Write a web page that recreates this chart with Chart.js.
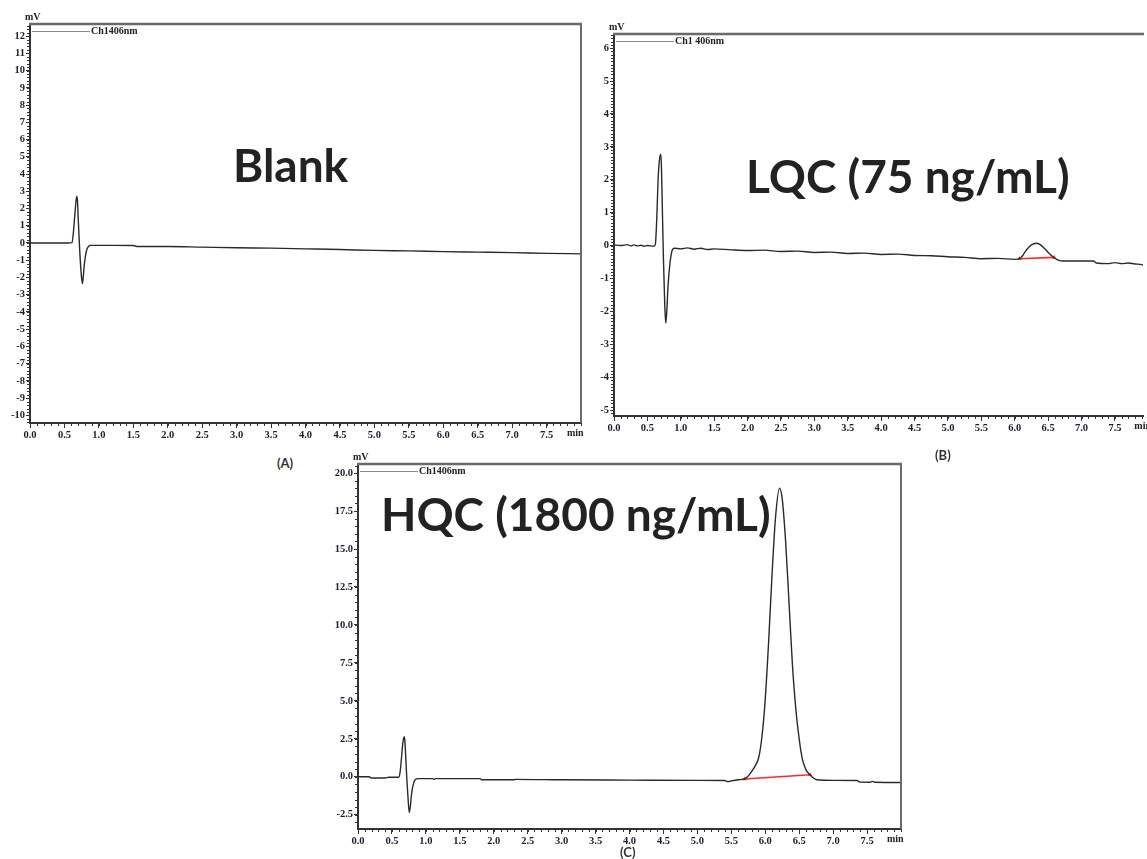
<!DOCTYPE html>
<html><head><meta charset="utf-8">
<script src="https://cdn.jsdelivr.net/npm/chart.js@4.4.0/dist/chart.umd.min.js"></script>
<style>
body{margin:0;background:#fff;width:1147px;height:859px;overflow:hidden;position:relative}
.box{position:absolute}
.title{position:absolute;font-family:Lato,sans-serif;font-weight:700;color:#222;white-space:nowrap;line-height:1;font-size:46px}
.lab{position:absolute;font-family:Lato,sans-serif;font-weight:700;font-size:13px;color:#333;line-height:1}
</style></head><body>
<div class="box" style="left:0;top:0"><canvas id="cA" width="600" height="450"></canvas></div>
<div class="box" style="left:590px;top:0"><canvas id="cB" width="557" height="450"></canvas></div>
<div class="box" style="left:320px;top:440px"><canvas id="cC" width="600" height="419"></canvas></div>
<div class="title" style="left:233px;top:142px">Blank</div>
<div class="title" style="left:746px;top:153px">LQC (75 ng/mL)</div>
<div class="title" style="left:381px;top:491px">HQC (1800 ng/mL)</div>
<div class="lab" style="left:277px;top:457px">(A)</div>
<div class="lab" style="left:935px;top:449px">(B)</div>
<div class="lab" style="left:620px;top:846px">(C)</div>
<script>
// ---------- data ----------
const xTickLabels = [0.0,0.5,1.0,1.5,2.0,2.5,3.0,3.5,4.0,4.5,5.0,5.5,6.0,6.5,7.0,7.5];
const yTicksA = [-10,-9,-8,-7,-6,-5,-4,-3,-2,-1,0,1,2,3,4,5,6,7,8,9,10,11,12];
const yTicksB = [-5,-4,-3,-2,-1,0,1,2,3,4,5,6];
const yTicksC = [-2.5,0.0,2.5,5.0,7.5,10.0,12.5,15.0,17.5,20.0];

const timeA = [0.0,0.3,0.55,0.61,0.63,0.65,0.67,0.68,0.69,0.70,0.72,0.74,0.76,0.77,0.79,0.82,0.85,0.88,1.2,1.5,1.55,2.0,2.5,3.0,3.5,4.0,4.5,5.0,5.5,6.0,6.5,7.0,7.5,8.0];
const signalA = [0.0,0.0,0.0,0.02,0.6,1.6,2.5,2.7,2.4,1.4,-0.3,-1.6,-2.35,-2.1,-1.2,-0.45,-0.2,-0.14,-0.14,-0.15,-0.2,-0.2,-0.24,-0.28,-0.3,-0.34,-0.38,-0.43,-0.46,-0.5,-0.53,-0.56,-0.6,-0.63];

const timeB = [0.0,0.1,0.2,0.25,0.3,0.35,0.4,0.45,0.5,0.6,0.62,0.64,0.66,0.68,0.70,0.71,0.72,0.74,0.76,0.775,0.79,0.81,0.84,0.87,0.9,1.0,1.1,1.2,1.3,1.4,1.5,1.75,2.0,2.25,2.5,2.75,3.0,3.25,3.5,3.75,4.0,4.25,4.5,4.75,5.0,5.25,5.5,5.75,6.0,6.07,6.12,6.18,6.25,6.32,6.38,6.45,6.52,6.59,6.65,6.72,7.0,7.18,7.22,7.4,7.5,7.6,7.7,7.8,7.9,7.95];
const signalB = [0.02,0.0,0.03,-0.01,0.02,-0.01,0.01,-0.02,0.0,-0.02,0.05,0.8,2.0,2.6,2.78,2.4,1.5,-0.4,-1.8,-2.36,-2.0,-1.2,-0.5,-0.15,-0.08,-0.1,-0.07,-0.11,-0.08,-0.12,-0.1,-0.13,-0.15,-0.14,-0.18,-0.17,-0.21,-0.2,-0.24,-0.23,-0.27,-0.26,-0.3,-0.31,-0.34,-0.36,-0.4,-0.39,-0.42,-0.4,-0.3,-0.12,0.02,0.07,0.03,-0.1,-0.25,-0.37,-0.44,-0.47,-0.47,-0.47,-0.53,-0.55,-0.52,-0.55,-0.53,-0.56,-0.58,-0.62];
const baseTimeB = [6.07,6.59];
const baseSignalB = [-0.4,-0.36];

const timeC = [0.0,0.17,0.19,0.4,0.45,0.6,0.62,0.64,0.66,0.68,0.69,0.70,0.72,0.74,0.755,0.77,0.79,0.82,0.85,0.88,1.1,1.12,1.15,1.8,1.82,2.3,2.32,3.0,4.0,5.0,5.4,5.45,5.5,5.6,5.7,5.75,5.8,5.85,5.9,5.93,5.95,5.975,6.0,6.025,6.05,6.1,6.15,6.21,6.25,6.3,6.35,6.4,6.45,6.475,6.5,6.525,6.55,6.575,6.6,6.66,6.7,6.76,7.0,7.35,7.4,7.55,7.58,7.62,8.0];
const signalC = [0.0,0.0,-0.08,-0.08,-0.03,-0.03,0.3,1.2,2.2,2.64,2.4,1.6,-0.2,-1.6,-2.35,-2.0,-1.1,-0.4,-0.17,-0.12,-0.12,-0.17,-0.12,-0.12,-0.2,-0.2,-0.17,-0.2,-0.22,-0.24,-0.25,-0.32,-0.27,-0.2,-0.13,0.05,0.35,0.7,1.2,1.9,2.6,3.7,5.1,6.9,8.9,13.3,17.0,19.0,18.3,15.5,11.5,7.4,4.5,3.4,2.5,1.7,1.1,0.75,0.45,0.13,-0.05,-0.2,-0.24,-0.25,-0.35,-0.36,-0.3,-0.36,-0.38];
const baseTimeC = [5.7,6.66];
const baseSignalC = [-0.15,0.13];

// ---------- drawing ----------
const SERIF = 'bold 10px "Liberation Serif", "DejaVu Serif", serif';
const framePlugin = {
  id:'frame',
  afterDraw(chart, args, o) {
    const {ctx, chartArea:a} = chart;
    const x = chart.scales.x, y = chart.scales.y;
    ctx.save();
    // top frame
    ctx.strokeStyle = '#6a6a6a'; ctx.lineWidth = 2.5;
    ctx.beginPath(); ctx.moveTo(a.left - 1, a.top); ctx.lineTo(a.right + 1, a.top); ctx.stroke();
    if (o.right) {
      ctx.lineWidth = 2;
      ctx.beginPath(); ctx.moveTo(a.right, a.top); ctx.lineTo(a.right, a.bottom); ctx.stroke();
    }
    // minor ticks
    ctx.strokeStyle = '#333'; ctx.lineWidth = 1;
    ctx.beginPath();
    for (let i = 0; i <= Math.round(x.max / 0.1); i++) {
      const px = Math.round(x.getPixelForValue(i * 0.1)) + 0.5;
      ctx.moveTo(px, a.bottom); ctx.lineTo(px, a.bottom + 3);
    }
    const start = Math.ceil(y.min / o.yMinor);
    for (let i = start; i * o.yMinor <= y.max; i++) {
      const py = Math.round(y.getPixelForValue(i * o.yMinor)) + 0.5;
      ctx.moveTo(a.left, py); ctx.lineTo(a.left - 3, py);
    }
    ctx.stroke();
    // legend
    ctx.strokeStyle = '#8a8a8a'; ctx.lineWidth = 1;
    const ly = Math.round(a.top + 7) + 0.5;
    ctx.beginPath(); ctx.moveTo(a.left + 2, ly); ctx.lineTo(a.left + 60, ly); ctx.stroke();
    ctx.fillStyle = '#222'; ctx.font = SERIF; ctx.textBaseline = 'middle'; ctx.textAlign = 'left';
    ctx.fillText(o.legend, a.left + 61, ly);
    // units
    ctx.textBaseline = 'bottom';
    ctx.fillText('mV', a.left - 5, a.top - 2);
    ctx.textBaseline = 'top';
    ctx.fillText('min', x.getPixelForValue(8.0) - 14, a.bottom + 5);
    ctx.restore();
  }
};

function makeChart(id, c) {
  const ds = [{
    data: c.t.map((t, i) => ({x: t, y: c.v[i]})),
    borderColor: '#2a2a2a', borderWidth: 1.4, pointRadius: 0,
    cubicInterpolationMode: 'monotone', fill: false
  }];
  if (c.bt) ds.push({
    data: c.bt.map((t, i) => ({x: t, y: c.bv[i]})),
    borderColor: '#ff2a2a', borderWidth: 1.6, pointRadius: 2.5, pointStyle: 'triangle',
    pointBackgroundColor: '#ff2a2a', pointBorderWidth: 0, fill: false
  });
  return new Chart(document.getElementById(id), {
    type: 'line',
    data: {datasets: ds},
    options: {
      responsive: false, animation: false, events: [],
      layout: {padding: {top: c.padTop, right: c.padRight, left: 0, bottom: 0}},
      plugins: {legend: {display: false}, tooltip: {enabled: false},
        frame: {right: c.rightFrame, yMinor: c.yMinor, legend: c.legend}},
      scales: {
        x: {type: 'linear', min: 0, max: c.xMax,
          afterBuildTicks: s => { s.ticks = xTickLabels.map(v => ({value: v})); },
          afterFit: s => { s.height = c.xH; },
          grid: {drawOnChartArea: false, tickLength: 5, tickColor: '#333', tickWidth: 1},
          border: {color: '#333', width: 2},
          ticks: {font: {family: '"Liberation Serif"', weight: 'bold', size: 10.5}, color: '#1e1e30',
            padding: 1, maxRotation: 0, autoSkip: false, callback: v => v.toFixed(1)}},
        y: {type: 'linear', min: c.yMin, max: c.yMax,
          afterBuildTicks: s => { s.ticks = c.yTicks.map(v => ({value: v})); },
          afterFit: s => { s.width = c.yW; },
          grid: {drawOnChartArea: false, tickLength: 4, tickColor: '#333', tickWidth: 1},
          border: {color: '#333', width: 2},
          ticks: {font: {family: '"Liberation Serif"', weight: 'bold', size: 10.5}, color: '#1e1e30',
            padding: 1, autoSkip: false, callback: c.yFmt}}
      }
    },
    plugins: [framePlugin]
  });
}

makeChart('cA', {t: timeA, v: signalA, xMax: 8.0, yMin: -10.44, yMax: 12.7, yTicks: yTicksA,
  yFmt: v => String(v), padTop: 24, padRight: 19, xH: 27, yW: 30, rightFrame: true, yMinor: 0.2, legend: 'Ch1406nm'});
makeChart('cB', {t: timeB, v: signalB, bt: baseTimeB, bv: baseSignalB, xMax: 7.92, yMin: -5.18, yMax: 6.43, yTicks: yTicksB,
  yFmt: v => String(v), padTop: 34, padRight: 0, xH: 34, yW: 24, rightFrame: false, yMinor: 0.1, legend: 'Ch1 406nm'});
makeChart('cC', {t: timeC, v: signalC, bt: baseTimeC, bv: baseSignalC, xMax: 8.0, yMin: -3.44, yMax: 20.6, yTicks: yTicksC,
  yFmt: v => v.toFixed(1), padTop: 24, padRight: 19, xH: 30, yW: 38, rightFrame: true, yMinor: 0.5, legend: 'Ch1406nm'});
</script>
</body></html>
